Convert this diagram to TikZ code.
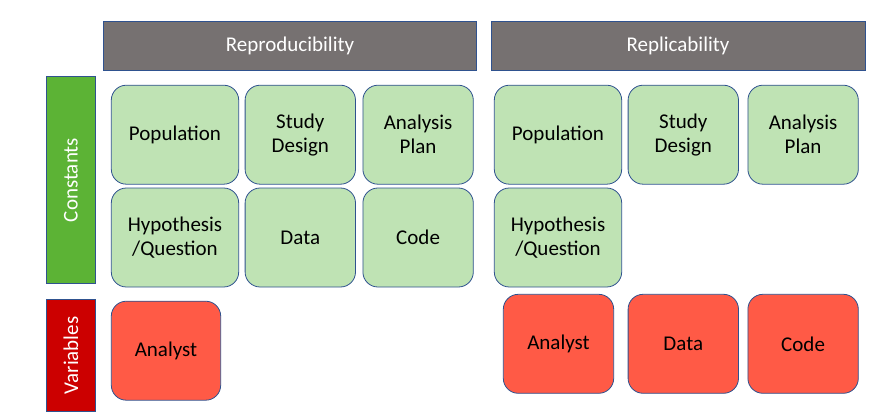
\documentclass[tikz,border=0pt]{standalone}
\usepackage{fontspec}
\setmainfont{Carlito}
\usetikzlibrary{positioning}

\definecolor{headgray}{HTML}{767171}
\definecolor{edgeblue}{HTML}{2F528F}
\definecolor{constgreen}{HTML}{5CB335}
\definecolor{varred}{HTML}{CC0000}
\definecolor{lightgreen}{HTML}{BFE3B4}
\definecolor{boxred}{HTML}{FF5A46}

\begin{document}
\begin{tikzpicture}[
    x=1pt, y=-1pt,
    node distance=6pt and 6pt,
    % Office-like styles
    headbox/.style={rectangle, draw=edgeblue, line width=0.8pt, fill=headgray,
        text=white, minimum width=373pt, minimum height=49pt,
        font=\fontsize{21}{24}\selectfont},
    sidebar/.style={rectangle, draw=edgeblue, line width=0.8pt, rotate=90,
        text=white, minimum height=49.4pt, font=\fontsize{21}{24}\selectfont},
    constbox/.style={rectangle, rounded corners=15pt, draw=edgeblue, line width=0.8pt,
        fill=lightgreen, minimum width=110.4pt, minimum height=99pt, inner sep=0pt,
        align=center, font=\fontsize{21}{24}\selectfont},
    widebox/.style={constbox, minimum width=127.4pt},
    varbox/.style={constbox, fill=boxred},
]
\useasboundingbox (0,0) rectangle (895,420);

% ============ Column headers ============
\node[headbox] (repHead) at (290,46.2) {Reproducibility};
\node[headbox, minimum width=374pt] (replHead) at (678,46.2) {Replicability};

% ============ Row headers ============
\node[sidebar, fill=constgreen, minimum width=206.6pt] (constBar) at (71,180) {Constants};
\node[sidebar, fill=varred, minimum width=112.7pt] (varBar) at (71,355.3) {Variables};

% ============ Reproducibility: constants ============
\node[widebox] (popA) at (175,134.7) {Population};
\node[constbox, right=5.6pt of popA] (studyA) {Study\\Design};
\node[constbox, right=6.6pt of studyA] (planA) {Analysis\\Plan};
\node[widebox, below=3pt of popA] (hypA) {Hypothesis\\/Question};
\node[constbox, below=3pt of studyA] (dataA) {Data};
\node[constbox, below=3pt of planA] (codeA) {Code};

% Reproducibility: variables
\node[varbox, minimum width=109.4pt] (analystA) at (166,350.7) {Analyst};

% ============ Replicability: constants ============
\node[widebox] (popB) at (558,134.7) {Population};
\node[constbox, right=5.6pt of popB] (studyB) {Study\\Design};
\node[constbox, right=8.6pt of studyB] (planB) {Analysis\\Plan};
\node[widebox, below=3pt of popB] (hypB) {Hypothesis\\/Question};

% Replicability: variables
\node[varbox] (analystB) at (558.5,343.8) {Analyst};
\node[varbox, right=13.6pt of analystB] (dataB) {Data};
\node[varbox, right=8.6pt of dataB] (codeB) {Code};

\end{tikzpicture}
\end{document}
